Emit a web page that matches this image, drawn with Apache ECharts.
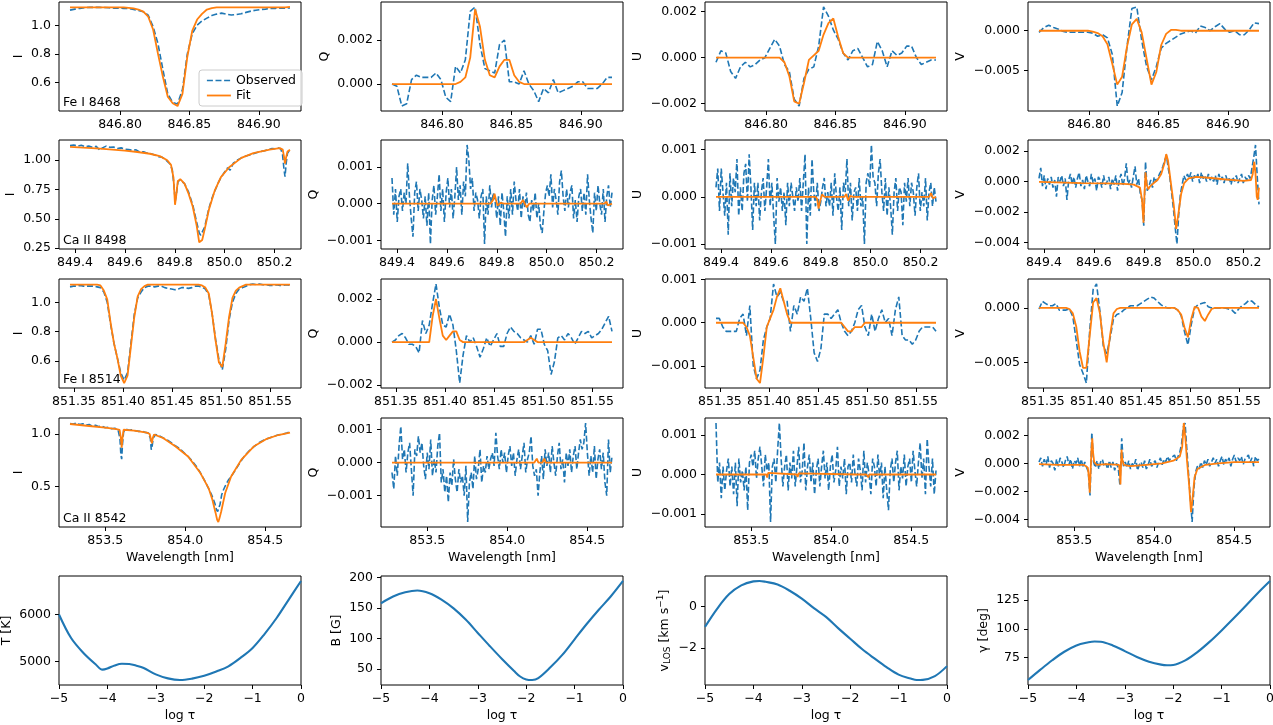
<!DOCTYPE html>
<html>
<head>
<meta charset="utf-8">
<script src="https://cdn.jsdelivr.net/npm/echarts@6.0.0/dist/echarts.min.js"></script>
<style>
html,body{margin:0;padding:0;background:#ffffff;}
#chart{width:1273px;height:725px;}
</style>
</head>
<body>
<div id="chart"></div>
<script>
// ---------------- wavelength sampling of each spectral window ----------------
const gridFeI8468 = {start: 846.764, step: 0.00352};
const gridCaII8498 = {start: 849.38, step: 0.007};
const gridFeI8514 = {start: 851.346, step: 0.00345};
const gridCaII8542 = {start: 853.28, step: 0.011};

// ---------------- Fe I 8468 ----------------
const feI8468_I_obs = [1.106,1.113,1.118,1.123,1.125,1.125,1.125,1.124,1.122,1.120,
 1.119,1.118,1.117,1.110,1.104,1.095,1.070,0.990,0.870,0.690,
 0.520,0.460,0.450,0.550,0.800,0.940,1.000,1.030,1.050,1.068,
 1.078,1.085,1.077,1.072,1.075,1.080,1.090,1.099,1.105,1.110,
 1.113,1.117,1.118,1.120,1.120,1.121];
const feI8468_I_fit = [1.125,1.125,1.125,1.125,1.125,1.125,1.125,1.125,1.125,1.125,
 1.125,1.125,1.122,1.118,1.110,1.095,1.060,0.970,0.800,0.640,
 0.500,0.455,0.435,0.520,0.780,0.960,1.040,1.080,1.110,1.120,
 1.125,1.125,1.125,1.125,1.125,1.125,1.125,1.125,1.125,1.125,
 1.125,1.125,1.125,1.125,1.125,1.128];
const feI8468_Q_obs = [0.0000,-0.0001,-0.0010,-0.0009,0.0002,0.0004,0.0003,0.0003,0.0003,0.0005,
 0.0002,-0.0006,-0.0008,0.0008,0.0005,0.0011,0.0033,0.0035,0.0018,0.0007,
 0.0006,0.0005,0.0018,0.0020,0.0001,0.0001,0.0000,0.0006,0.0000,-0.0003,
 -0.0008,-0.0002,-0.0004,0.0002,-0.0004,-0.0003,-0.0002,-0.0001,0.0001,0.0001,
 -0.0002,-0.0002,-0.0002,0.0000,0.0003,0.0003];
const feI8468_Q_fit = [0,0,0,0,0,0,0,0,0,0,
 0,0,0,0,0.0001,0.0003,0.0012,0.0034,0.0026,0.0011,
 0.0004,0.0003,0.0008,0.0011,0.0011,0.0004,0.0001,0,0,0,
 0,0,0,0,0,0,0,0,0,0,
 0,0,0,0,0,0];
const feI8468_U_obs = [-0.0002,0.0003,0.0002,-0.0006,-0.0009,-0.0004,-0.0002,-0.0004,-0.0003,-0.0001,
 0.0000,0.0004,0.0008,0.0005,-0.0003,-0.0006,-0.0018,-0.0021,-0.0009,-0.0005,
 -0.0004,0.0005,0.0022,0.0018,0.0012,0.0008,0.0002,-0.0001,0.0003,0.0004,
 0.0000,-0.0004,-0.0003,0.0007,0.0003,-0.0004,0.0003,0.0001,0.0002,0.0005,
 0.0005,0.0000,-0.0003,-0.0002,-0.0001,-0.0001];
const feI8468_U_fit = [0,0,0,0,0,0,0,0,0,0,
 0,0,0,0,-0.0002,-0.0008,-0.0019,-0.0020,-0.0011,-0.0001,
 0.0001,0.0003,0.0010,0.0015,0.0017,0.0009,0.0002,0,0,0,
 0,0,0,0,0,0,0,0,0,0,
 0,0,0,0,0,0];
const feI8468_V_obs = [-0.0002,0.0004,0.0007,0.0004,0.0002,-0.0001,-0.0002,-0.0002,-0.0002,-0.0002,
 -0.0002,-0.0003,-0.0007,-0.0005,-0.0009,-0.0030,-0.0095,-0.0078,-0.0020,0.0028,
 0.0030,-0.0012,-0.0045,-0.0062,-0.0045,-0.0022,-0.0016,-0.0012,-0.0008,-0.0004,
 -0.0002,0.0000,-0.0003,0.0006,0.0004,0.0000,0.0005,0.0009,0.0002,-0.0002,
 0.0000,-0.0005,-0.0005,0.0001,0.0010,0.0009];
const feI8468_V_fit = [0,0,0,0,0,0,0,0,0,0,
 0,-0.0001,-0.0003,-0.0007,-0.0017,-0.0042,-0.0068,-0.0058,-0.0020,0.0008,
 0.0015,-0.0002,-0.0035,-0.0068,-0.0052,-0.0018,-0.0004,0.0001,0.0001,0,
 0,0,0,0,0,0,0,0,0,0,
 0,0,0,0,0,0];

// ---------------- Ca II 8498 ----------------
const caII8498_I_obs = [[849.380,1.125],[849.395,1.130],[849.410,1.120],[849.425,1.128],[849.440,1.115],[849.455,1.120],
 [849.470,1.110],[849.485,1.118],[849.500,1.085],[849.510,1.105],[849.525,1.120],[849.540,1.110],[849.555,1.112],
 [849.570,1.100],[849.585,1.105],[849.600,1.095],[849.615,1.090],[849.630,1.085],[849.645,1.088],[849.660,1.070],
 [849.675,1.072],[849.690,1.060],[849.705,1.055],[849.720,1.045],[849.735,1.030],[849.750,1.025],[849.765,1.000],
 [849.780,0.970],[849.790,0.920],[849.797,0.780],[849.802,0.650],[849.807,0.720],[849.813,0.820],[849.822,0.830],
 [849.839,0.800],[849.855,0.730],[849.872,0.620],[849.888,0.470],[849.898,0.380],[849.904,0.360],[849.910,0.370],
 [849.920,0.430],[849.937,0.590],[849.950,0.680],[849.961,0.740],[849.975,0.810],[849.985,0.850],[850.000,0.900],
 [850.012,0.935],[850.022,0.915],[850.035,0.975],[850.050,1.000],[850.067,1.020],[850.085,1.035],[850.100,1.045],
 [850.115,1.055],[850.130,1.065],[850.145,1.075],[850.160,1.080],[850.175,1.090],[850.190,1.100],[850.205,1.098],
 [850.215,1.105],[850.225,1.095],[850.232,1.050],[850.238,0.920],[850.242,0.860],[850.247,0.980],[850.252,1.060],
 [850.262,1.090]];
const caII8498_I_fit = [[849.380,1.113],[849.450,1.105],[849.500,1.098],[849.550,1.090],[849.600,1.082],[849.650,1.070],
 [849.700,1.055],[849.740,1.035],[849.770,1.000],[849.785,0.960],[849.795,0.850],[849.801,0.620],[849.806,0.700],
 [849.812,0.820],[849.822,0.838],[849.839,0.800],[849.855,0.717],[849.872,0.605],[849.888,0.440],[849.898,0.300],
 [849.904,0.285],[849.910,0.320],[849.920,0.410],[849.937,0.580],[849.961,0.745],[849.985,0.856],[850.018,0.940],
 [850.067,1.020],[850.115,1.060],[850.180,1.090],[850.221,1.103],[850.233,1.090],[850.238,1.030],[850.242,0.970],
 [850.247,1.030],[850.252,1.075],[850.262,1.090]];
const caII8498_Q_obs = [0.0007,-0.0003,0.0004,-0.0005,0.0002,0.0004,-0.0002,0.0003,0.0000,0.0011,
 0.0002,-0.0004,-0.0009,0.0003,0.0006,-0.0002,0.0004,0.0001,-0.0004,0.0002,
 -0.0006,0.0003,-0.0011,0.0001,0.0005,-0.0003,0.0002,0.0008,-0.0002,0.0004,
 -0.0005,0.0003,0.0007,-0.0001,0.0004,-0.0004,0.0002,0.0010,0.0001,0.0005,
 -0.0003,0.0006,0.0002,0.0016,0.0012,0.0004,0.0007,-0.0002,0.0003,0.0001,
 -0.0004,0.0002,0.0004,-0.0011,0.0002,-0.0003,0.0005,-0.0001,0.0003,0.0001,
 -0.0004,0.0002,-0.0006,0.0003,-0.0002,-0.0009,0.0002,-0.0004,0.0004,-0.0003,
 0.0006,0.0001,-0.0002,0.0004,-0.0004,0.0002,-0.0001,0.0003,-0.0003,-0.0005,
 0.0001,-0.0002,0.0003,-0.0004,0.0000,-0.0006,-0.0008,-0.0002,0.0003,0.0005,
 0.0002,0.0008,-0.0001,0.0004,0.0001,-0.0003,0.0006,0.0009,0.0002,-0.0002,
 0.0004,-0.0001,0.0003,0.0005,-0.0004,0.0001,-0.0005,0.0002,0.0004,-0.0002,
 0.0003,-0.0003,0.0008,0.0001,-0.0004,-0.0008,0.0003,-0.0002,0.0005,0.0000,
 -0.0003,0.0004,-0.0005,0.0002,0.0005,-0.0001,0.0003];
const caII8498_Q_fit = [[849.380,0],[849.775,0],[849.785,0.0001],[849.791,0.00027],[849.797,0.0001],[849.803,-0.00005],
 [849.815,0.00002],[849.830,0],[849.895,0],[849.905,0.0001],[849.912,0.00005],[849.920,-0.0001],[849.930,0],
 [850.230,0],[850.240,0.00005],[850.245,-0.00005],[850.250,0],[850.262,0]];
const caII8498_U_obs = [0.0002,0.0006,-0.0003,0.0006,0.0001,-0.0004,0.0003,-0.0008,0.0005,-0.0002,
 0.0004,0.0001,0.0008,-0.0004,0.0002,-0.0003,0.0005,0.0007,-0.0001,0.0009,
 0.0002,-0.0007,0.0003,-0.0002,0.0003,-0.0005,0.0001,0.0004,-0.0003,0.0002,
 0.0008,-0.0002,0.0003,-0.0004,-0.0010,0.0004,-0.0001,0.0002,-0.0003,0.0001,
 -0.0006,0.0003,-0.0002,0.0003,0.0000,-0.0003,0.0002,-0.0001,0.0004,-0.0003,
 0.0003,0.0009,-0.0010,0.0002,-0.0004,0.0008,0.0001,-0.0002,0.0003,-0.0003,
 -0.0001,0.0002,0.0004,-0.0002,0.0001,-0.0002,0.0003,-0.0004,0.0005,0.0000,
 -0.0003,0.0002,-0.0007,0.0003,0.0001,0.0008,-0.0002,0.0003,-0.0005,0.0001,
 0.0002,-0.0003,0.0004,-0.0002,0.0000,-0.0010,0.0003,0.0005,0.0002,0.0011,
 0.0004,0.0003,-0.0002,0.0005,0.0008,0.0001,-0.0003,0.0004,-0.0004,0.0002,
 -0.0002,-0.0008,0.0001,0.0004,-0.0003,0.0002,0.0001,-0.0006,0.0003,-0.0001,
 0.0004,-0.0002,0.0003,0.0001,-0.0004,0.0002,0.0005,-0.0003,0.0001,-0.0002,
 0.0004,-0.0005,0.0001,0.0003,-0.0002,0.0002,-0.0001];
const caII8498_U_fit = [[849.380,0],[849.780,0],[849.786,-0.00005],[849.791,-0.00025],[849.797,-0.0001],[849.805,0.00005],
 [849.815,0],[849.895,0],[849.902,0.00006],[849.910,-0.00008],[849.918,0.00002],[849.930,0],[850.235,0],
 [850.242,0.00008],[850.250,-0.00003],[850.262,0]];
const caII8498_V_obs = [0.0002,0.0009,-0.0003,0.0004,-0.0005,0.0002,-0.0002,0.0003,-0.0004,0.0001,
 -0.0010,0.0003,0.0000,0.0004,-0.0003,0.0002,-0.0012,0.0001,0.0005,-0.0002,
 0.0003,-0.0004,0.0002,0.0006,-0.0003,0.0001,-0.0005,0.0004,0.0000,-0.0003,
 0.0005,-0.0001,0.0002,-0.0006,0.0003,0.0001,-0.0004,0.0004,-0.0002,0.0000,
 0.0003,-0.0005,0.0002,-0.0002,0.0004,-0.0006,0.0001,0.0005,-0.0003,0.0002,
 0.0012,-0.0002,0.0001,-0.0004,0.0003,0.0010,-0.0002,0.0002,-0.0008,-0.0012,
 -0.0029,0.0013,-0.0006,-0.0003,0.0001,-0.0004,0.0003,0.0000,0.0002,0.0005,
 0.0007,0.0010,0.0014,0.0017,0.0009,0.0002,-0.0008,-0.0018,-0.0030,-0.0041,
 -0.0022,-0.0008,-0.0002,0.0004,0.0001,0.0005,0.0002,0.0006,0.0000,0.0004,
 0.0002,0.0005,-0.0001,0.0006,0.0002,0.0004,0.0000,0.0005,0.0001,0.0003,
 0.0000,0.0004,-0.0002,0.0005,0.0001,0.0003,-0.0001,0.0004,0.0000,0.0002,
 -0.0002,0.0003,0.0000,0.0004,-0.0001,0.0002,0.0005,-0.0001,0.0003,0.0001,
 0.0004,0.0002,0.0009,0.0016,0.0024,0.0003,-0.0015];
const caII8498_V_fit = [[849.380,-0.00002],[849.450,-0.00005],[849.550,-0.0001],[849.650,-0.00012],[849.720,-0.00015],
 [849.760,-0.0002],[849.785,-0.0004],[849.793,-0.0012],[849.799,-0.0027],[849.803,-0.0008],[849.807,0.0006],
 [849.812,-0.0002],[849.818,-0.0005],[849.826,-0.0003],[849.840,-0.0001],[849.855,0.0001],[849.870,0.0005],
 [849.883,0.0012],[849.890,0.0018],[849.897,0.0014],[849.908,0.0000],[849.920,-0.0015],[849.930,-0.0031],
 [849.938,-0.0022],[849.950,-0.0008],[849.962,-0.0001],[849.980,0.0002],[850.010,0.0003],[850.060,0.00025],
 [850.120,0.00015],[850.200,0.00005],[850.230,0.0001],[850.237,0.0005],[850.243,0.0013],[850.248,0.0005],
 [850.253,-0.0010],[850.257,-0.0012],[850.262,-0.0004]];

// ---------------- Fe I 8514 ----------------
const feI8514_I_obs = [1.105,1.110,1.110,1.115,1.110,1.110,1.110,1.110,1.105,1.100,
 1.070,1.000,0.850,0.720,0.620,0.520,0.470,0.520,0.720,0.920,
 1.030,1.070,1.100,1.110,1.110,1.105,1.110,1.110,1.100,1.095,
 1.090,1.085,1.090,1.100,1.100,1.095,1.100,1.110,1.110,1.105,
 1.090,1.050,0.920,0.750,0.610,0.540,0.680,0.880,1.000,1.060,
 1.090,1.100,1.110,1.120,1.125,1.120,1.125,1.120,1.120,1.115,
 1.115,1.120,1.115,1.115,1.120,1.115];
const feI8514_I_fit = [1.120,1.120,1.120,1.120,1.120,1.120,1.120,1.120,1.120,1.115,
 1.080,1.020,0.860,0.720,0.620,0.500,0.450,0.500,0.700,0.900,
 1.040,1.090,1.110,1.120,1.120,1.120,1.120,1.120,1.120,1.120,
 1.120,1.120,1.120,1.120,1.120,1.120,1.120,1.120,1.120,1.115,
 1.100,1.060,0.920,0.740,0.590,0.560,0.720,0.900,1.030,1.080,
 1.100,1.110,1.120,1.120,1.120,1.120,1.120,1.120,1.120,1.120,
 1.120,1.120,1.120,1.120,1.120,1.120];
const feI8514_Q_obs = [0.0000,0.0001,0.0003,0.0004,0.0002,-0.0001,-0.0001,-0.0002,-0.0005,0.0010,
 0.0004,0.0008,0.0018,0.0027,0.0016,0.0008,0.0007,0.0013,0.0008,-0.0004,
 -0.0019,-0.0006,0.0003,0.0000,0.0002,-0.0002,-0.0007,-0.0003,0.0002,-0.0002,
 0.0001,0.0004,-0.0002,-0.0002,0.0004,0.0007,0.0005,0.0004,0.0002,0.0001,
 0.0000,0.0003,-0.0001,0.0006,0.0006,-0.0001,-0.0004,-0.0015,-0.0009,0.0002,
 0.0003,0.0001,0.0004,0.0002,-0.0001,0.0002,0.0005,0.0004,0.0005,0.0002,
 0.0003,0.0004,0.0006,0.0009,0.0012,0.0005];
const feI8514_Q_fit = [0,0,0,0,0,0,0,0,0,0,
 0,0,0.0012,0.0020,0.0011,0.0003,0.0001,0.0003,0.0005,0.0005,
 0.0001,0,0,0,0,0,0,0,0,0,
 0,0,0,0,0,0,0,0,0,0,
 0.0001,0.0002,0.0001,0,0,0,0,0,0,0,
 0,0,0,0,0,0,0,0,0,0,
 0,0,0,0,0,0];
const feI8514_U_obs = [0.0001,0.0001,-0.0001,-0.0002,-0.0002,-0.0002,-0.0002,0.0001,0.0002,-0.0003,
 0.0004,-0.0010,-0.0013,-0.0011,-0.0004,-0.0001,0.0001,0.0009,0.0006,0.0007,
 0.0005,0.0005,-0.0002,0.0004,0.0002,0.0006,0.0005,0.0008,0.0001,-0.0007,
 -0.0009,-0.0006,0.0002,0.0002,0.0001,0.0002,0.0003,0.0000,-0.0002,-0.0003,
 -0.0002,0.0000,0.0003,0.0004,-0.0001,-0.0003,0.0002,-0.0002,0.0001,0.0003,
 0.0000,0.0001,-0.0003,0.0003,0.0006,-0.0003,-0.0004,-0.0004,-0.0005,-0.0004,
 -0.0002,-0.0001,-0.0001,-0.0001,-0.0001,-0.0002];
const feI8514_U_fit = [0,0,0,0,0,0,0,0,0,-0.0001,
 -0.0003,-0.0008,-0.0013,-0.0014,-0.0008,-0.0001,0.0001,0.0003,0.0006,0.0008,
 0.0005,0.0002,0,0,0,0,0,0,0,0,
 0,0,0,0,0,0,0,0,-0.0001,-0.0002,
 -0.0002,-0.0001,-0.0001,-0.0001,0,0,0,0,0,0,
 0,0,0,0,0,0,0,0,0,0,
 0,0,0,0,0,0];
const feI8514_V_obs = [-0.0001,0.0006,0.0004,0.0002,0.0002,0.0004,-0.0002,-0.0002,-0.0002,-0.0001,
 -0.0008,-0.0030,-0.0052,-0.0060,-0.0069,-0.0020,0.0017,0.0022,-0.0003,-0.0035,
 -0.0042,-0.0028,-0.0010,-0.0006,-0.0005,-0.0002,0.0000,0.0002,0.0002,0.0002,
 0.0004,0.0006,0.0008,0.0010,0.0009,0.0006,0.0003,0.0001,0.0000,0.0000,
 0.0000,-0.0002,-0.0007,-0.0022,-0.0034,-0.0015,0.0000,0.0003,0.0004,0.0005,
 0.0001,0.0000,0.0000,0.0000,0.0000,0.0000,-0.0001,-0.0002,-0.0005,-0.0001,
 0.0002,0.0004,0.0007,0.0006,0.0003,0.0001];
const feI8514_V_fit = [0,0,0,0,0,0,0,0,0,-0.0001,
 -0.0005,-0.0017,-0.0040,-0.0055,-0.0055,-0.0025,0.0005,0.0009,-0.0005,-0.0032,
 -0.0050,-0.0025,-0.0005,-0.0001,0,0,0,0,0,0,
 0,0,0,0,0,0,0,0,0,0,
 0,-0.0002,-0.0006,-0.0018,-0.0027,-0.0010,0.0001,0.0000,-0.0008,-0.0012,
 -0.0006,-0.0001,0,0,0,0,0,0,0,0,
 0,0,0,0,0,0];

// ---------------- Ca II 8542 ----------------
const caII8542_I_obs = [[853.280,1.100],[853.300,1.095],[853.320,1.105],[853.340,1.090],[853.360,1.098],[853.380,1.085],
 [853.400,1.090],[853.420,1.075],[853.440,1.082],[853.460,1.070],[853.480,1.075],[853.500,1.060],[853.520,1.065],
 [853.540,1.050],[853.560,1.055],[853.580,1.040],[853.592,0.960],[853.598,0.800],[853.603,0.760],[853.608,0.900],
 [853.615,1.020],[853.630,1.045],[853.650,1.035],[853.670,1.040],[853.690,1.030],[853.710,1.025],[853.730,1.028],
 [853.750,1.015],[853.770,1.010],[853.782,0.960],[853.788,0.850],[853.793,0.880],[853.800,0.960],[853.815,0.995],
 [853.840,0.980],[853.865,0.960],[853.890,0.940],[853.915,0.915],[853.940,0.885],[853.965,0.860],[853.990,0.825],
 [854.018,0.785],[854.045,0.740],[854.070,0.690],[854.095,0.630],[854.120,0.560],[854.146,0.480],[854.165,0.420],
 [854.175,0.410],[854.185,0.340],[854.195,0.280],[854.203,0.260],[854.210,0.275],[854.218,0.330],[854.228,0.420],
 [854.240,0.470],[854.255,0.520],[854.270,0.560],[854.290,0.600],[854.315,0.660],[854.340,0.720],[854.370,0.790],
 [854.400,0.840],[854.430,0.880],[854.460,0.915],[854.490,0.940],[854.520,0.960],[854.550,0.975],[854.580,0.990],
 [854.610,1.000],[854.635,1.010],[854.655,1.020]];
const caII8542_I_fit = [[853.280,1.095],[853.400,1.076],[853.500,1.060],[853.570,1.047],[853.590,1.040],[853.598,0.960],
 [853.603,0.870],[853.608,0.960],[853.615,1.040],[853.680,1.032],[853.760,1.013],[853.778,1.000],[853.787,0.940],
 [853.792,0.910],[853.797,0.960],[853.805,0.995],[853.864,0.960],[853.940,0.880],[854.018,0.785],[854.095,0.627],
 [854.146,0.484],[854.170,0.373],[854.190,0.247],[854.200,0.180],[854.207,0.160],[854.215,0.200],[854.225,0.260],
 [854.250,0.437],[854.287,0.595],[854.350,0.753],[854.428,0.880],[854.505,0.950],[854.582,0.990],[854.655,1.013]];
const caII8542_Q_obs = [-0.0003,-0.0008,0.0002,-0.0004,0.0005,0.0011,0.0001,0.0004,-0.0003,0.0003,
 0.0006,-0.0002,-0.0010,0.0004,0.0002,0.0008,0.0003,0.0006,-0.0001,-0.0005,
 0.0003,-0.0002,0.0007,-0.0004,0.0001,-0.0003,0.0005,0.0009,-0.0006,-0.0002,
 -0.0009,-0.0004,-0.0012,-0.0003,-0.0007,0.0001,-0.0005,-0.0009,-0.0002,-0.0006,
 -0.0004,-0.0010,-0.0001,-0.0018,-0.0006,-0.0003,-0.0008,0.0002,-0.0005,-0.0002,
 0.0004,-0.0006,-0.0001,-0.0003,0.0002,-0.0002,0.0001,0.0003,-0.0001,0.0009,
 0.0002,-0.0002,0.0004,0.0000,0.0003,-0.0003,0.0002,0.0005,-0.0001,0.0003,
 -0.0004,0.0001,0.0004,-0.0002,0.0002,0.0006,-0.0003,0.0001,0.0003,0.0008,
 -0.0001,-0.0004,-0.0002,-0.0010,-0.0003,0.0002,-0.0005,0.0004,-0.0001,0.0003,
 -0.0003,0.0005,0.0000,-0.0004,0.0002,0.0006,-0.0002,0.0001,-0.0006,0.0003,
 -0.0001,0.0004,-0.0003,0.0002,0.0005,-0.0002,0.0003,0.0007,0.0004,0.0006,
 0.0012,0.0003,-0.0004,0.0002,-0.0003,0.0005,-0.0005,0.0001,0.0004,-0.0002,
 0.0003,-0.0006,-0.0010,0.0007,-0.0003,0.0002];
const caII8542_Q_fit = [[853.280,0],[853.595,0],[853.600,0.00006],[853.605,-0.00003],[853.610,0],[853.785,0],
 [853.790,0.00004],[853.795,0],[854.170,0],[854.185,0.00012],[854.195,0],[854.220,0],[854.232,0.00012],
 [854.240,0],[854.655,0]];
const caII8542_U_obs = [0.0013,-0.0002,0.0003,-0.0006,0.0002,-0.0004,0.0001,0.0004,-0.0003,0.0002,
 -0.0005,0.0003,-0.0008,0.0004,-0.0002,0.0001,-0.0004,0.0002,-0.0009,0.0003,
 0.0005,0.0002,0.0006,-0.0001,0.0004,0.0007,0.0002,-0.0003,0.0005,0.0001,
 0.0003,-0.0012,0.0002,0.0004,-0.0002,0.0006,0.0013,0.0004,-0.0003,0.0002,
 0.0005,-0.0004,0.0003,-0.0001,0.0006,-0.0003,0.0002,0.0007,-0.0002,0.0001,
 0.0008,-0.0004,0.0002,0.0005,-0.0002,0.0003,-0.0005,0.0001,0.0004,-0.0003,
 0.0002,0.0006,-0.0001,0.0003,-0.0004,0.0002,0.0005,-0.0002,0.0001,0.0007,
 -0.0003,0.0002,-0.0001,0.0004,-0.0005,0.0002,0.0003,-0.0002,0.0005,0.0000,
 -0.0003,0.0004,0.0001,-0.0004,0.0006,-0.0002,0.0003,0.0000,-0.0005,0.0004,
 0.0002,-0.0003,0.0005,-0.0001,0.0003,-0.0006,0.0002,-0.0004,-0.0009,0.0001,
 0.0004,-0.0002,0.0003,0.0006,-0.0004,0.0002,-0.0001,0.0005,-0.0003,0.0002,
 0.0004,-0.0002,0.0006,0.0001,-0.0003,0.0003,0.0008,-0.0001,0.0004,-0.0005,
 0.0009,0.0002,-0.0003,0.0004,-0.0005,0.0001];
const caII8542_U_fit = [[853.280,0],[853.595,0],[853.600,-0.00008],[853.606,0.00004],[853.610,0],[853.785,0],
 [853.790,-0.00006],[853.797,0.00003],[853.800,0],[854.160,0],[854.170,-0.00003],[854.180,0],[854.220,0],
 [854.232,-0.00007],[854.240,0],[854.655,0]];
const caII8542_V_obs = [0.0001,0.0004,-0.0002,0.0003,-0.0001,0.0005,-0.0003,0.0002,0.0000,-0.0005,
 0.0003,-0.0002,0.0004,0.0001,-0.0003,0.0002,0.0005,-0.0001,0.0003,-0.0004,
 0.0002,0.0000,0.0004,-0.0002,0.0003,-0.0003,0.0001,0.0002,-0.0006,-0.0023,
 0.0022,0.0001,-0.0003,0.0002,-0.0004,0.0001,0.0003,-0.0002,0.0000,-0.0004,
 0.0002,-0.0003,0.0001,-0.0005,0.0000,-0.0003,-0.0016,0.0018,-0.0002,0.0001,
 -0.0003,0.0002,-0.0004,0.0000,-0.0002,0.0003,-0.0005,-0.0001,0.0001,-0.0003,
 0.0002,-0.0004,-0.0001,0.0003,-0.0002,0.0000,0.0002,-0.0003,0.0001,0.0004,
 -0.0001,0.0003,0.0001,0.0005,0.0002,0.0004,0.0003,0.0006,0.0002,0.0005,
 0.0008,0.0014,0.0026,0.0029,0.0010,-0.0008,-0.0025,-0.0042,-0.0018,-0.0006,
 -0.0002,-0.0004,0.0001,-0.0003,0.0002,-0.0001,0.0003,-0.0002,0.0001,0.0004,
 0.0000,0.0003,-0.0002,0.0002,0.0005,-0.0001,0.0003,0.0001,0.0004,-0.0002,
 0.0003,0.0006,0.0001,0.0004,0.0002,0.0005,-0.0001,0.0003,0.0002,0.0006,
 0.0001,0.0004,-0.0002,0.0005,0.0002,0.0003];
const caII8542_V_fit = [[853.280,-0.00005],[853.400,-0.0001],[853.560,-0.0001],[853.585,-0.0003],[853.592,-0.0010],
 [853.597,-0.0021],[853.603,-0.0005],[853.608,0.0010],[853.613,0.0018],[853.618,0.0008],[853.625,0.0001],
 [853.640,-0.0001],[853.700,-0.00005],[853.780,-0.0001],[853.785,-0.0006],[853.789,-0.0015],[853.793,0.0000],
 [853.796,0.0010],[853.800,0.0003],[853.810,-0.0001],[853.850,-0.0002],[853.950,-0.0001],[854.050,0.0000],
 [854.120,0.0002],[854.160,0.0005],[854.175,0.0012],[854.185,0.0029],[854.195,0.0018],[854.205,0.0002],
 [854.218,-0.0015],[854.230,-0.0035],[854.240,-0.0025],[854.252,-0.0010],[854.270,-0.0004],[854.320,-0.0001],
 [854.400,0.0000],[854.500,0.0001],[854.655,0.0001]];

// ---------------- inferred atmosphere ----------------
const logTauT = [-5,-4.75,-4.5,-4.25,-4.1,-4,-3.85,-3.7,-3.55,-3.4,-3.25,-3,-2.75,-2.5,-2.25,-2,-1.75,-1.5,-1.25,-1,-0.75,-0.5,-0.25,0];
const temperature = [6000,5500,5190,4950,4830,4855,4920,4955,4950,4915,4865,4730,4645,4610,4640,4700,4790,4900,5080,5290,5590,5930,6320,6710];
const logTauB = [-5,-4.75,-4.5,-4.25,-4,-3.75,-3.5,-3.25,-3,-2.75,-2.5,-2.25,-2.125,-2,-1.875,-1.75,-1.5,-1.25,-1,-0.75,-0.5,-0.25,0];
const fieldB = [158,169,176,179,174.5,164,149.6,131.3,109.4,87.7,66.7,47,38,33.1,32.2,35.3,53,73.8,99,124,147.4,169.5,194.6];
const logTauV = [-5,-4.75,-4.5,-4.25,-4,-3.875,-3.75,-3.5,-3.25,-3,-2.75,-2.5,-2.25,-2,-1.75,-1.5,-1.25,-1,-0.75,-0.625,-0.5,-0.25,0];
const vLOS = [-0.98,-0.11,0.60,1.02,1.21,1.23,1.19,1.06,0.76,0.38,-0.08,-0.50,-1.04,-1.55,-2.06,-2.50,-2.92,-3.28,-3.47,-3.54,-3.53,-3.35,-2.87];
const logTauG = [-5,-4.75,-4.5,-4.25,-4,-3.75,-3.625,-3.5,-3.25,-3,-2.75,-2.5,-2.25,-2.125,-2,-1.75,-1.5,-1.25,-1,-0.75,-0.5,-0.25,0];
const gammaInc = [55.5,64.3,72.7,80.1,85.6,88.3,89.0,88.8,85.6,80.7,75.6,71.5,68.9,68.4,68.6,72.6,79.8,88.7,98.7,109.2,120.1,131.3,141.7];

// ---------------- tick labels ----------------
const lineLabels = ['Fe I 8468','Ca II 8498','Fe I 8514','Ca II 8542'];
const xTicksRows = [[846.80,846.85,846.90],[849.4,849.6,849.8,850.0,850.2],[851.35,851.40,851.45,851.50,851.55],[853.5,854.0,854.5],[-5,-4,-3,-2,-1,0]];
const xDecRows = [2,1,2,1,0];
const yTicksRows = [
 [[0.6,0.8,1.0],[0,0.002],[-0.002,0,0.002],[-0.005,0]],
 [[0.25,0.5,0.75,1.0],[-0.001,0,0.001],[-0.001,0,0.001],[-0.004,-0.002,0,0.002]],
 [[0.6,0.8,1.0],[-0.002,0,0.002],[-0.001,0,0.001],[-0.005,0]],
 [[0.5,1.0],[-0.001,0,0.001],[-0.001,0,0.001],[-0.004,-0.002,0,0.002]],
 [[5000,6000],[50,100,150,200],[-2,0],[75,100,125]]
];
const yDecRows = [[1,3,3,3],[2,3,3,3],[1,3,3,3],[1,3,3,3],[0,0,0,0]];

// ---------------- build ----------------
const C0 = '#1f77b4', C1 = '#ff7f0e', FONT = 'DejaVu Sans', FS = 12.5;
const colLeft = [59, 381, 705, 1028], plotW = 242;
const rowTop = [2, 140, 279, 418, 576], plotH = 109;

const specRows = [
 {g: gridFeI8468, obs:[feI8468_I_obs,feI8468_Q_obs,feI8468_U_obs,feI8468_V_obs], fit:[feI8468_I_fit,feI8468_Q_fit,feI8468_U_fit,feI8468_V_fit]},
 {g: gridCaII8498, obs:[caII8498_I_obs,caII8498_Q_obs,caII8498_U_obs,caII8498_V_obs], fit:[caII8498_I_fit,caII8498_Q_fit,caII8498_U_fit,caII8498_V_fit]},
 {g: gridFeI8514, obs:[feI8514_I_obs,feI8514_Q_obs,feI8514_U_obs,feI8514_V_obs], fit:[feI8514_I_fit,feI8514_Q_fit,feI8514_U_fit,feI8514_V_fit]},
 {g: gridCaII8542, obs:[caII8542_I_obs,caII8542_Q_obs,caII8542_U_obs,caII8542_V_obs], fit:[caII8542_I_fit,caII8542_Q_fit,caII8542_U_fit,caII8542_V_fit]}
];
const stokesNames = ['I','Q','U','V'];

const measure = document.createElement('canvas').getContext('2d');
measure.font = FS + 'px "' + FONT + '"';

function fmt(d){ return v => { const s = (Math.abs(v) < 1e-12 ? 0 : v).toFixed(d); return s.replace('-', '\u2212'); }; }
function toPairs(a, g){ return typeof a[0] === 'number' ? a.map((v,i) => [+(g.start + g.step*i).toFixed(6), v]) : a; }
function padExt(vals){ const mn = Math.min(...vals), mx = Math.max(...vals), p = (mx - mn) * 0.05; return [mn - p, mx + p]; }
function labelWidth(ticks, d){ return Math.max(...ticks.map(t => measure.measureText(fmt(d)(t)).width)); }

const option = {
  animation: false,
  textStyle: {fontFamily: FONT},
  grid: [], xAxis: [], yAxis: [], series: [], graphic: [],
  legend: {
    data: ['Observed','Fit'], orient: 'vertical', left: 199, top: 70,
    padding: [4,6,4,7], itemGap: 2, itemWidth: 24, itemHeight: 12,
    itemStyle: {opacity: 0, borderWidth: 0},
    lineStyle: {type: 'inherit', width: 'inherit'},
    textStyle: {fontSize: FS, fontFamily: FONT, color: '#000'},
    backgroundColor: 'rgba(255,255,255,0.8)', borderColor: '#cccccc', borderWidth: 1, borderRadius: 3
  }
};

function addPanel(r, c, seriesList, xExt, xName, yName, yRich){
  const k = option.grid.length;
  option.grid.push({left: colLeft[c], top: rowTop[r], width: plotW, height: plotH, show: true,
    borderColor: '#000', borderWidth: 1, backgroundColor: 'rgba(0,0,0,0)', containLabel: false, outerBoundsMode: 'none'});
  const xt = xTicksRows[r], yt = yTicksRows[r][c], xd = xDecRows[r], yd = yDecRows[r][c];
  const allY = [];
  seriesList.forEach(s => s.data.forEach(p => allY.push(p[1])));
  const yExt = padExt(allY);
  const tickStyle = {show: true, inside: false, length: 4, lineStyle: {color: '#000', width: 1}};
  option.xAxis.push({gridIndex: k, type: 'value', min: xExt[0], max: xExt[1], position: 'bottom',
    axisLine: {show: false, onZero: false}, splitLine: {show: false},
    axisTick: Object.assign({customValues: xt}, tickStyle),
    axisLabel: {customValues: xt, formatter: fmt(xd), fontSize: FS, fontFamily: FONT, color: '#000', margin: 7},
    name: xName || '', nameLocation: 'middle', nameGap: 24,
    nameTextStyle: {fontSize: FS, fontFamily: FONT, color: '#000'}});
  const yGap = 9 + labelWidth(yt, yd) + 5;
  option.yAxis.push({gridIndex: k, type: 'value', min: yExt[0], max: yExt[1], position: 'left',
    axisLine: {show: false, onZero: false}, splitLine: {show: false},
    axisTick: Object.assign({customValues: yt}, tickStyle),
    axisLabel: {customValues: yt, formatter: fmt(yd), fontSize: FS, fontFamily: FONT, color: '#000', margin: 8},
    name: yName, nameLocation: 'middle', nameGap: yGap, nameRotate: 90,
    nameTextStyle: Object.assign({fontSize: FS, fontFamily: FONT, color: '#000'}, yRich ? {rich: yRich} : {})});
  seriesList.forEach(s => {
    option.series.push(Object.assign({type: 'line', xAxisIndex: k, yAxisIndex: k, symbol: 'none',
      silent: true, animation: false, clip: true}, s));
  });
}

specRows.forEach((row, r) => {
  const n = row.obs[1].length;
  const xExt = padExt([row.g.start, row.g.start + row.g.step * (n - 1)]);
  for (let c = 0; c < 4; c++) {
    const obs = toPairs(row.obs[c], row.g), fit = toPairs(row.fit[c], row.g);
    addPanel(r, c, [
      {name: 'Observed', data: obs, z: 2, lineStyle: {color: C0, width: 1.6, type: [6, 2.6]}, itemStyle: {color: C0}},
      {name: 'Fit', data: fit, z: 3, lineStyle: {color: C1, width: 1.8}, itemStyle: {color: C1}}
    ], xExt, r === 3 ? 'Wavelength [nm]' : '', stokesNames[c]);
  }
  option.graphic.push({type: 'text', x: colLeft[0] + 4, y: rowTop[r] + plotH - 2,
    style: {text: lineLabels[r], fontSize: FS, fontFamily: FONT, fill: '#000', align: 'left', verticalAlign: 'bottom'}});
});

const atm = [
  {tau: logTauT, vals: temperature, name: 'T [K]'},
  {tau: logTauB, vals: fieldB, name: 'B [G]'},
  {tau: logTauV, vals: vLOS, name: '{b|v}{s|LOS} [km s{p|\u22121}]', rich: {
      b: {fontSize: FS, fontFamily: FONT, color: '#000'},
      s: {fontSize: 9, fontFamily: FONT, color: '#000', padding: [6,0,0,0]},
      p: {fontSize: 9, fontFamily: FONT, color: '#000', padding: [0,0,7,0]}}},
  {tau: logTauG, vals: gammaInc, name: '\u03b3 [deg]'}
];
atm.forEach((a, c) => {
  const data = a.tau.map((t, i) => [t, a.vals[i]]);
  addPanel(4, c, [{name: 'profile', data: data, smooth: 0.35, z: 2, lineStyle: {color: C0, width: 2.1}, itemStyle: {color: C0}}],
    [-5, 0], 'log \u03c4', a.name, a.rich);
});

const chart = echarts.init(document.getElementById('chart'), null, {renderer: 'canvas'});
chart.setOption(option);
</script>
</body>
</html>
